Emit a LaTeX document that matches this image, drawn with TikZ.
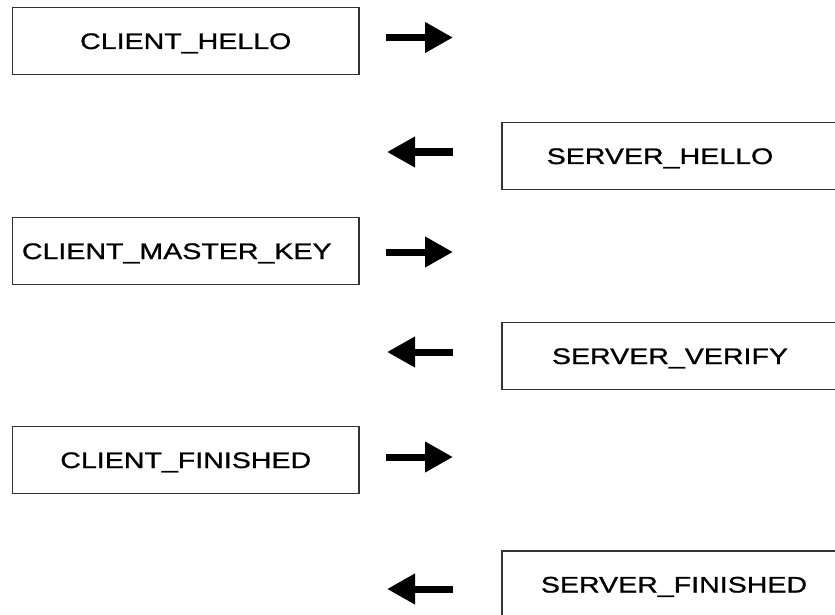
\documentclass[tikz,border=0pt]{standalone}
\usepackage{fontspec}
\setmainfont{Liberation Sans}
\newfontfamily\msgfont[FakeStretch=1.27,FakeBold=1.0]{Liberation Sans}
\usetikzlibrary{arrows.meta}
\begin{document}
\begin{tikzpicture}[x=1pt,y=-1pt,
  msgbox/.style={draw=black!80, line width=1.1pt, minimum height=67pt, inner sep=0pt,
    text height=16pt, text depth=0pt,
    font=\msgfont\fontsize{22.5}{26}\selectfont},
  client/.style={msgbox, minimum width=346.5pt},
  server/.style={msgbox, minimum width=336pt},
  msg/.style={line width=7pt, -{Triangle[length=28pt,width=29pt]}}
]
\useasboundingbox (0,0) rectangle (835,615);
\clip (0,0) rectangle (835,615);

% client messages
\node[client] (ch)  at (185.75,41)  {CLIENT\_HELLO};
\node[client] (cmk) at (185.75,251) {CLIENT\_MASTER\_KEY\hspace*{18pt}};
\node[client] (cf)  at (185.75,460) {CLIENT\_FINISHED};

% server messages
\node[server] (sh) at (670,156)   {SERVER\_HELLO\hspace*{20pt}};
\node[server] (sv) at (670,356)   {SERVER\_VERIFY};
\node[server] (sf) at (670,584.5) {\hspace*{8pt}SERVER\_FINISHED};

% direction arrows
\coordinate (r1a) at (386,37.5); \coordinate (r1b) at (453,37.5);
\coordinate (l1a) at (453,152);  \coordinate (l1b) at (387,152);
\coordinate (r2a) at (386,252);  \coordinate (r2b) at (453,252);
\coordinate (l2a) at (453,352);  \coordinate (l2b) at (387,352);
\coordinate (r3a) at (386,457);  \coordinate (r3b) at (453,457);
\coordinate (l3a) at (453,589);  \coordinate (l3b) at (387,589);

\draw[msg] (r1a) -- (r1b);
\draw[msg] (l1a) -- (l1b);
\draw[msg] (r2a) -- (r2b);
\draw[msg] (l2a) -- (l2b);
\draw[msg] (r3a) -- (r3b);
\draw[msg] (l3a) -- (l3b);
\end{tikzpicture}
\end{document}
